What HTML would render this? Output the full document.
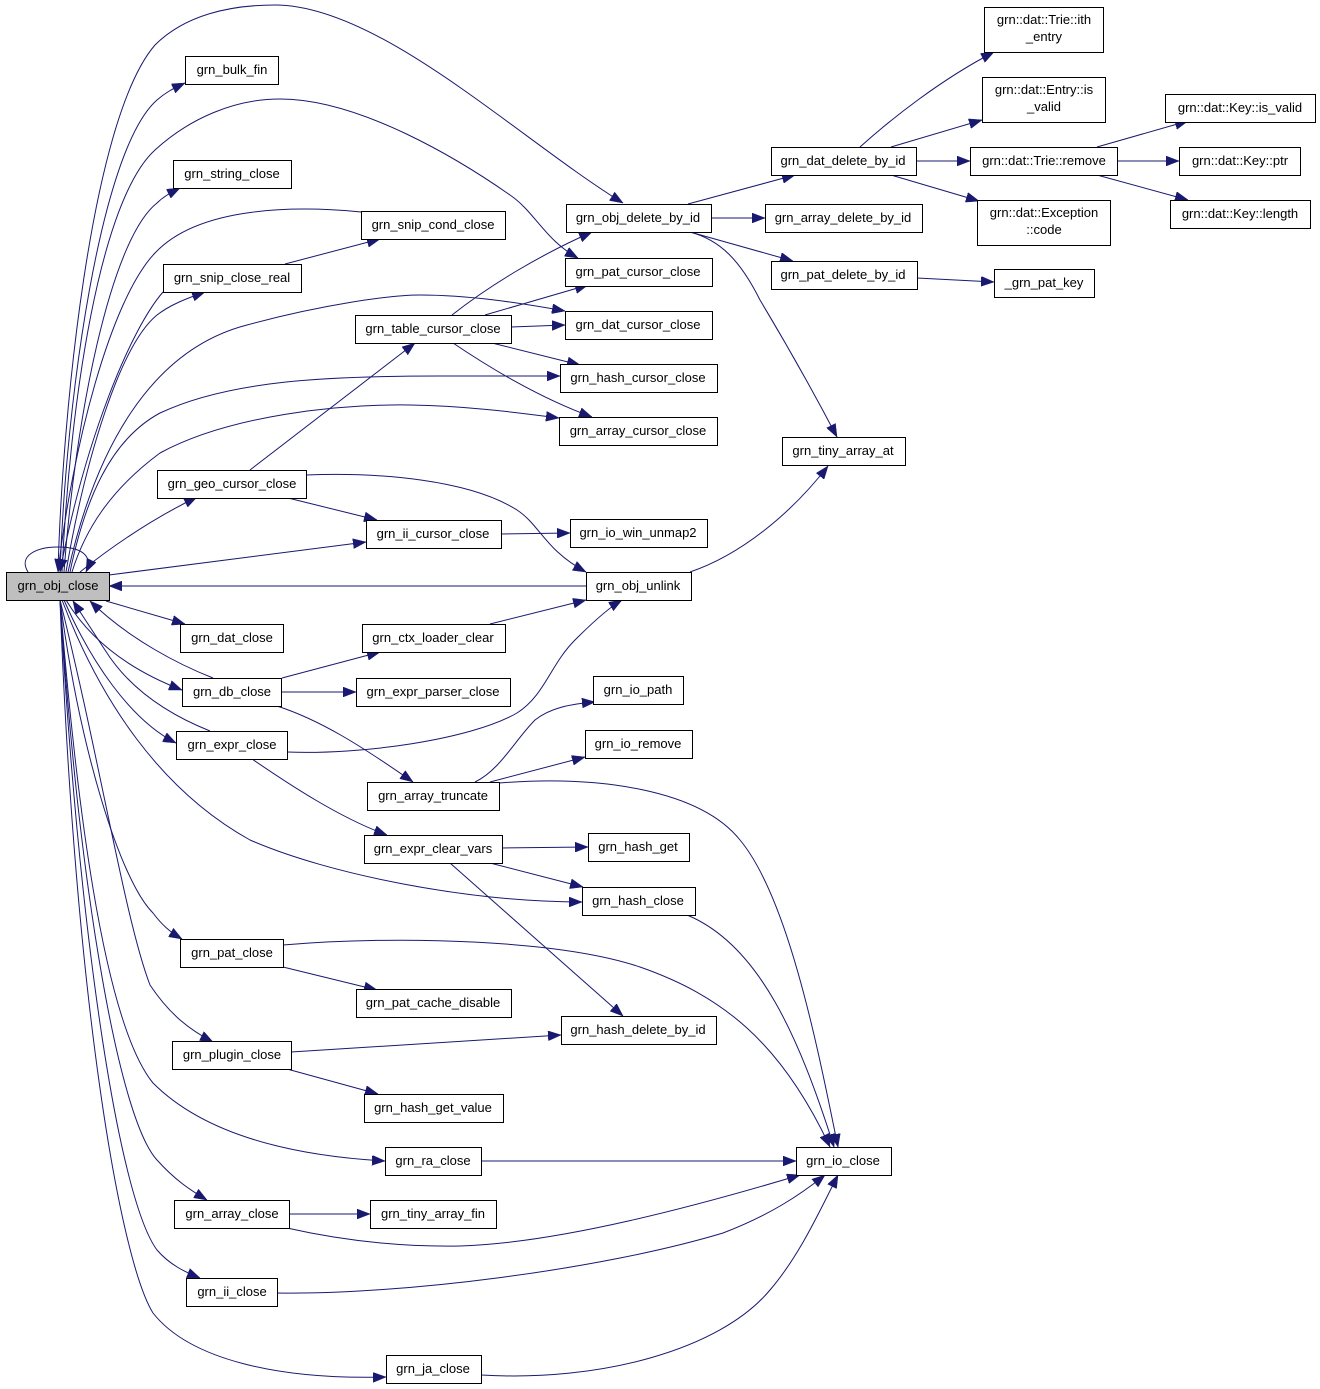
<!DOCTYPE html>
<html>
<head>
<meta charset="utf-8">
<style>
  html, body { margin: 0; padding: 0; background: #ffffff; }
  svg { display: block; }
  text { font-family: "Liberation Sans", Arial, sans-serif; font-size: 13px; fill: #000; }
  .n { fill: #ffffff; stroke: #000000; stroke-width: 1; }
  .g { fill: #bfbfbf; stroke: #000000; stroke-width: 1; }
  .e { fill: none; stroke: #191970; stroke-width: 1; }
</style>
</head>
<body>
<svg width="1320" height="1389" viewBox="0 0 1320 1389" xmlns="http://www.w3.org/2000/svg">
<defs>
  <marker id="a" viewBox="0 0 13 10" refX="13" refY="5" markerWidth="13" markerHeight="10" markerUnits="userSpaceOnUse" orient="auto">
    <path d="M0,0 L13,5 L0,10 z" fill="#191970" stroke="#191970" stroke-width="0.5"/>
  </marker>
</defs>

<!-- edges -->
<g class="edges">
<path class="e" marker-end="url(#a)" d="M58,572 C62,420 90,120 155,45 C185,15 230,5 275,5 C380,5 520,140 623,203"/>
<path class="e" marker-end="url(#a)" d="M60,572 C66,400 100,150 157,100 C165,93 172,89 185,83"/>
<path class="e" marker-end="url(#a)" d="M62,572 C70,400 100,200 155,150 C190,118 235,99 280,99 C360,99 460,160 510,195 C535,212 545,240 578,258"/>
<path class="e" marker-end="url(#a)" d="M64,572 C75,420 110,240 157,203 C163,197 170,193 180,188"/>
<path class="e" marker-end="url(#a)" d="M361,212 C300,206 200,205 155,253 C110,300 72,450 58,572"/>
<path class="e" marker-end="url(#a)" d="M66,572 C85,460 120,345 157,315 C170,305 185,299 205,292"/>
<path class="e" marker-end="url(#a)" d="M163,292 C130,330 85,440 60,572"/>
<path class="e" marker-end="url(#a)" d="M285,264 L380,239"/>
<path class="e" marker-end="url(#a)" d="M68,572 C95,450 150,350 247,325 C320,305 390,295 420,295 C470,295 520,303 565,311"/>
<path class="e" marker-end="url(#a)" d="M70,572 C85,500 110,440 160,413 C230,380 330,376 440,376 C500,376 530,376 560,376"/>
<path class="e" marker-end="url(#a)" d="M72,572 C85,530 110,490 160,453 C230,415 340,404 410,405 C470,406 520,413 559,418"/>
<path class="e" marker-end="url(#a)" d="M80,572 C110,548 150,520 197,497"/>
<path class="e" marker-end="url(#a)" d="M28,572 C18,556 36,547 58,547 C80,547 94,555 86,572"/>
<path class="e" marker-end="url(#a)" d="M250,470 L415,343"/>
<path class="e" marker-end="url(#a)" d="M109,575 L366,542"/>
<path class="e" marker-end="url(#a)" d="M586,586 L109,586"/>
<path class="e" marker-end="url(#a)" d="M106,601 L185,624"/>
<path class="e" marker-end="url(#a)" d="M288,498 L377,520"/>
<path class="e" marker-end="url(#a)" d="M306,475 C380,472 470,480 517,510 C540,525 545,550 586,572"/>
<path class="e" marker-end="url(#a)" d="M501,534 L570,533"/>
<path class="e" marker-end="url(#a)" d="M690,572 C740,555 790,515 828,466"/>
<path class="e" marker-end="url(#a)" d="M452,315 C490,285 540,255 592,232"/>
<path class="e" marker-end="url(#a)" d="M485,315 L588,285"/>
<path class="e" marker-end="url(#a)" d="M511,327 L565,325"/>
<path class="e" marker-end="url(#a)" d="M492,343 L580,365"/>
<path class="e" marker-end="url(#a)" d="M453,343 C490,368 540,398 592,417"/>
<path class="e" marker-end="url(#a)" d="M688,204 L795,175"/>
<path class="e" marker-end="url(#a)" d="M711,218 L765,218"/>
<path class="e" marker-end="url(#a)" d="M690,232 L793,261"/>
<path class="e" marker-end="url(#a)" d="M690,232 C720,240 740,260 760,300 C790,350 815,395 837,437"/>
<path class="e" marker-end="url(#a)" d="M860,147 C890,120 940,80 994,52"/>
<path class="e" marker-end="url(#a)" d="M891,147 L982,120"/>
<path class="e" marker-end="url(#a)" d="M916,161 L970,161"/>
<path class="e" marker-end="url(#a)" d="M891,175 L979,201"/>
<path class="e" marker-end="url(#a)" d="M1097,147 L1188,121"/>
<path class="e" marker-end="url(#a)" d="M1117,161 L1179,161"/>
<path class="e" marker-end="url(#a)" d="M1097,175 L1188,200"/>
<path class="e" marker-end="url(#a)" d="M917,278 L994,282"/>
<path class="e" marker-end="url(#a)" d="M490,624 L586,600"/>
<path class="e" marker-end="url(#a)" d="M213,678 C180,665 130,640 90,601"/>
<path class="e" marker-end="url(#a)" d="M210,731 C170,715 130,690 105,650 C92,630 82,615 73,601"/>
<path class="e" marker-end="url(#a)" d="M66,600 C90,640 130,670 182,690"/>
<path class="e" marker-end="url(#a)" d="M64,600 C90,660 130,720 176,743"/>
<path class="e" marker-end="url(#a)" d="M282,678 L380,652"/>
<path class="e" marker-end="url(#a)" d="M281,692 L356,692"/>
<path class="e" marker-end="url(#a)" d="M277,706 C320,720 360,745 413,782"/>
<path class="e" marker-end="url(#a)" d="M287,752 C360,755 470,740 517,713 C545,695 550,665 575,640 C595,620 610,607 622,600"/>
<path class="e" marker-end="url(#a)" d="M252,759 C290,785 340,818 387,835"/>
<path class="e" marker-end="url(#a)" d="M62,600 C100,700 160,790 250,840 C330,875 470,902 582,902"/>
<path class="e" marker-end="url(#a)" d="M475,782 C500,770 515,740 535,720 C550,708 570,704 595,702"/>
<path class="e" marker-end="url(#a)" d="M490,782 L585,757"/>
<path class="e" marker-end="url(#a)" d="M499,783 C600,775 700,790 740,840 C790,900 820,1060 838,1147"/>
<path class="e" marker-end="url(#a)" d="M502,848 L588,847"/>
<path class="e" marker-end="url(#a)" d="M490,863 L583,887"/>
<path class="e" marker-end="url(#a)" d="M450,863 L623,1016"/>
<path class="e" marker-end="url(#a)" d="M687,915 C760,945 800,1040 834,1147"/>
<path class="e" marker-end="url(#a)" d="M283,945 C400,935 560,940 640,967 C720,995 780,1040 830,1147"/>
<path class="e" marker-end="url(#a)" d="M283,967 L377,990"/>
<path class="e" marker-end="url(#a)" d="M60,600 C80,750 120,880 153,913 C162,925 170,932 182,939"/>
<path class="e" marker-end="url(#a)" d="M60,600 C100,760 125,920 150,985 C170,1015 190,1030 213,1042"/>
<path class="e" marker-end="url(#a)" d="M291,1052 L561,1035"/>
<path class="e" marker-end="url(#a)" d="M287,1069 L378,1094"/>
<path class="e" marker-end="url(#a)" d="M60,600 C80,850 110,1030 153,1083 C200,1130 280,1155 385,1161"/>
<path class="e" marker-end="url(#a)" d="M481,1161 L796,1161"/>
<path class="e" marker-end="url(#a)" d="M60,600 C80,900 120,1120 157,1160 C175,1180 190,1190 207,1200"/>
<path class="e" marker-end="url(#a)" d="M289,1214 L370,1214"/>
<path class="e" marker-end="url(#a)" d="M287,1228 C340,1240 400,1247 460,1246 C560,1243 700,1205 800,1175"/>
<path class="e" marker-end="url(#a)" d="M60,600 C80,950 120,1200 157,1250 C170,1265 185,1272 200,1278"/>
<path class="e" marker-end="url(#a)" d="M277,1293 C400,1295 600,1270 723,1233 C770,1215 800,1195 825,1175"/>
<path class="e" marker-end="url(#a)" d="M60,600 C75,1000 120,1260 153,1313 C190,1360 280,1380 386,1377"/>
<path class="e" marker-end="url(#a)" d="M481,1375 C600,1382 720,1350 770,1290 C800,1255 820,1210 838,1175"/>
</g>

<!-- nodes -->
<g text-anchor="middle">
<rect class="g" x="6.5" y="572.5" width="103" height="28"/><text x="58" y="590">grn_obj_close</text>
<rect class="n" x="185.5" y="56.5" width="93" height="28"/><text x="232" y="74">grn_bulk_fin</text>
<rect class="n" x="173.5" y="160.5" width="118" height="28"/><text x="232" y="178">grn_string_close</text>
<rect class="n" x="361.5" y="211.5" width="144" height="28"/><text x="433" y="229">grn_snip_cond_close</text>
<rect class="n" x="163.5" y="264.5" width="138" height="28"/><text x="232" y="282">grn_snip_close_real</text>
<rect class="n" x="355.5" y="315.5" width="156" height="28"/><text x="433" y="333">grn_table_cursor_close</text>
<rect class="n" x="566.5" y="204.5" width="145" height="28"/><text x="638" y="222">grn_obj_delete_by_id</text>
<rect class="n" x="565.5" y="258.5" width="147" height="28"/><text x="638" y="276">grn_pat_cursor_close</text>
<rect class="n" x="565.5" y="311.5" width="147" height="28"/><text x="638" y="329">grn_dat_cursor_close</text>
<rect class="n" x="560.5" y="364.5" width="157" height="28"/><text x="638" y="382">grn_hash_cursor_close</text>
<rect class="n" x="559.5" y="417.5" width="158" height="28"/><text x="638" y="435">grn_array_cursor_close</text>
<rect class="n" x="157.5" y="470.5" width="149" height="28"/><text x="232" y="488">grn_geo_cursor_close</text>
<rect class="n" x="366.5" y="520.5" width="135" height="28"/><text x="433" y="538">grn_ii_cursor_close</text>
<rect class="n" x="570.5" y="519.5" width="137" height="28"/><text x="638" y="537">grn_io_win_unmap2</text>
<rect class="n" x="586.5" y="572.5" width="105" height="28"/><text x="638" y="590">grn_obj_unlink</text>
<rect class="n" x="782.5" y="437.5" width="123" height="28"/><text x="843" y="455">grn_tiny_array_at</text>
<rect class="n" x="180.5" y="624.5" width="103" height="28"/><text x="232" y="642">grn_dat_close</text>
<rect class="n" x="362.5" y="624.5" width="143" height="28"/><text x="433" y="642">grn_ctx_loader_clear</text>
<rect class="n" x="182.5" y="678.5" width="99" height="28"/><text x="232" y="696">grn_db_close</text>
<rect class="n" x="356.5" y="678.5" width="154" height="28"/><text x="433" y="696">grn_expr_parser_close</text>
<rect class="n" x="176.5" y="731.5" width="111" height="28"/><text x="232" y="749">grn_expr_close</text>
<rect class="n" x="593.5" y="676.5" width="90" height="28"/><text x="638" y="694">grn_io_path</text>
<rect class="n" x="585.5" y="730.5" width="107" height="28"/><text x="638" y="748">grn_io_remove</text>
<rect class="n" x="367.5" y="782.5" width="132" height="28"/><text x="433" y="800">grn_array_truncate</text>
<rect class="n" x="364.5" y="835.5" width="138" height="28"/><text x="433" y="853">grn_expr_clear_vars</text>
<rect class="n" x="588.5" y="833.5" width="101" height="28"/><text x="638" y="851">grn_hash_get</text>
<rect class="n" x="582.5" y="887.5" width="113" height="28"/><text x="638" y="905">grn_hash_close</text>
<rect class="n" x="180.5" y="939.5" width="103" height="28"/><text x="232" y="957">grn_pat_close</text>
<rect class="n" x="356.5" y="989.5" width="155" height="28"/><text x="433" y="1007">grn_pat_cache_disable</text>
<rect class="n" x="561.5" y="1016.5" width="155" height="28"/><text x="638" y="1034">grn_hash_delete_by_id</text>
<rect class="n" x="172.5" y="1041.5" width="119" height="28"/><text x="232" y="1059">grn_plugin_close</text>
<rect class="n" x="364.5" y="1094.5" width="139" height="28"/><text x="433" y="1112">grn_hash_get_value</text>
<rect class="n" x="385.5" y="1147.5" width="96" height="28"/><text x="433" y="1165">grn_ra_close</text>
<rect class="n" x="796.5" y="1147.5" width="95" height="28"/><text x="843" y="1165">grn_io_close</text>
<rect class="n" x="174.5" y="1200.5" width="115" height="28"/><text x="232" y="1218">grn_array_close</text>
<rect class="n" x="370.5" y="1200.5" width="126" height="28"/><text x="433" y="1218">grn_tiny_array_fin</text>
<rect class="n" x="186.5" y="1278.5" width="91" height="28"/><text x="232" y="1296">grn_ii_close</text>
<rect class="n" x="386.5" y="1355.5" width="95" height="28"/><text x="433" y="1373">grn_ja_close</text>
<rect class="n" x="771.5" y="147.5" width="145" height="28"/><text x="843" y="165">grn_dat_delete_by_id</text>
<rect class="n" x="765.5" y="204.5" width="157" height="28"/><text x="843" y="222">grn_array_delete_by_id</text>
<rect class="n" x="771.5" y="261.5" width="146" height="28"/><text x="843" y="279">grn_pat_delete_by_id</text>
<rect class="n" x="984.5" y="7.5" width="119" height="45"/><text x="1044" y="24">grn::dat::Trie::ith</text><text x="1044" y="41">_entry</text>
<rect class="n" x="982.5" y="77.5" width="123" height="45"/><text x="1044" y="94">grn::dat::Entry::is</text><text x="1044" y="111">_valid</text>
<rect class="n" x="970.5" y="147.5" width="147" height="28"/><text x="1044" y="165">grn::dat::Trie::remove</text>
<rect class="n" x="977.5" y="200.5" width="133" height="45"/><text x="1044" y="217">grn::dat::Exception</text><text x="1044" y="234">::code</text>
<rect class="n" x="1165.5" y="94.5" width="150" height="28"/><text x="1240" y="112">grn::dat::Key::is_valid</text>
<rect class="n" x="1179.5" y="147.5" width="121" height="28"/><text x="1240" y="165">grn::dat::Key::ptr</text>
<rect class="n" x="1170.5" y="200.5" width="140" height="28"/><text x="1240" y="218">grn::dat::Key::length</text>
<rect class="n" x="994.5" y="269.5" width="100" height="28"/><text x="1044" y="287">_grn_pat_key</text>
</g>
</svg>
</body>
</html>
